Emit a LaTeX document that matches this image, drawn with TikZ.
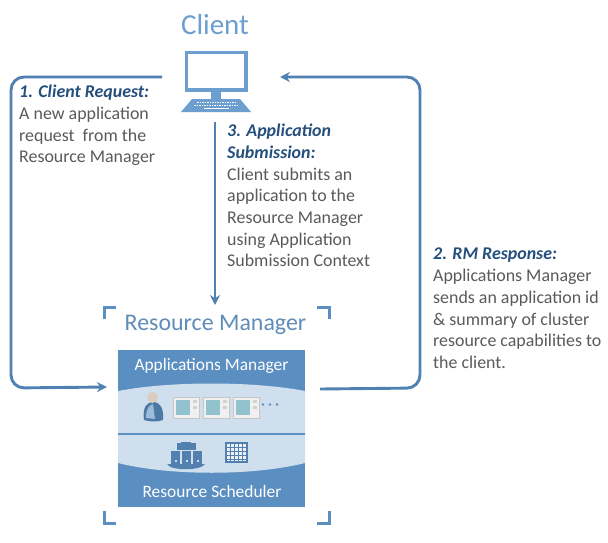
\documentclass[tikz,border=0pt]{standalone}
\usepackage{fontspec}
\setmainfont{Carlito}
\usetikzlibrary{arrows.meta,calc}
\definecolor{flow}{HTML}{4F81B3}
\definecolor{pale}{HTML}{6C9ECF}
\definecolor{band}{HTML}{5B8FC2}
\definecolor{lightband}{HTML}{CFDFEE}
\definecolor{headc}{HTML}{254F7C}
\definecolor{bodyc}{HTML}{5A5A5A}
\definecolor{titlec}{HTML}{5F8DB8}
\tikzset{
  flowline/.style={draw=flow,line width=2.9pt,rounded corners=13pt,-{Stealth[length=10pt,width=10pt]}},
  bracket/.style={draw=band,line width=3pt},
  note/.style={anchor=north west,align=left,inner sep=0pt,text=bodyc,font=\fontsize{17.9}{21.7}\selectfont},
  anchorbox/.style={minimum width=#1,inner sep=0pt,outer sep=0pt},
  inband/.style={text=white,font=\fontsize{17.4}{19}\selectfont},
  winbox/.style={draw=gray!45,fill=gray!12,line width=.8pt},
}
\newcommand{\hdr}[1]{{\color{headc}\bfseries\itshape #1}}
\begin{document}
\begin{tikzpicture}[x=1pt,y=-1pt,line cap=butt]
\useasboundingbox (0,0) rectangle (608,543);
\fill[white] (0,0) rectangle (608,543);
% anchor nodes
\node[anchorbox=118pt,minimum height=90pt] (client) at (221,77) {};
\node[anchorbox=216pt,minimum height=166pt] (rm) at (215,388) {};
% titles
\node[text=pale,font=\fontsize{29}{32}\selectfont] (clienttitle) at (215,25) {Client};
\node[text=titlec,font=\fontsize{23.9}{26}\selectfont] (rmtitle) at (215.5,325) {Resource Manager};
% monitor
\draw[pale,line width=3.2pt] (186.5,52.5) rectangle (246,90);
\fill[pale] (211,91) rectangle (221,99);
\fill[pale] (192,99) -- (240,99) -- (251,112) -- (181,112) -- cycle;
\foreach \r/\a/\b in {102/197/235,105/194/238}
  \draw[white,line width=1pt,dash pattern=on 1.5pt off 1pt] (\a,\r) -- (\b,\r);
\draw[white,line width=1pt] (204,108.5) -- (229,108.5);
% manager box
\fill[band] (118,350) rectangle (305,507);
\fill[lightband] (118,391) .. controls (170,381) and (253,381) .. (305,391)
  -- (305,463) .. controls (253,476) and (170,476) .. (118,463) -- cycle;
\draw[band,line width=1.2pt] (118,434) -- (305,434);
\node[inband] (am) at (211.5,366) {Applications Manager};
\node[inband] (rs) at (212,492) {Resource Scheduler};
% person
\fill[band!85!black] (144,420) .. controls (142,406) and (148,402) .. (153,402) .. controls (160,402) and (164,408) .. (163,420) .. controls (158,422) and (150,422) .. (144,420) -- cycle;
\fill[band!60] (146,418) .. controls (146,408) and (150,405) .. (153,404) -- (155,419) -- cycle;
\fill[orange!30!gray!40] (152.5,397.5) circle (5.5pt);
% windows
\foreach \x in {173,203,233}{
  \draw[winbox] (\x,397) rectangle (\x+26,418);
  \fill[teal!30!lightband] (\x+3,400) rectangle (\x+17,415);
  \fill[gray!35] (\x+20,400) rectangle (\x+24,403);
  \fill[gray!35] (\x+20,406) rectangle (\x+24,409);
}
\foreach \x in {263,270,277}
  \fill[band] (\x,404.5) circle (1.3pt);
% servers
\fill[band!90!black] (167,464) .. controls (170,471) and (201,471) .. (205,464) -- cycle;
\fill[band!90!black] (171,451) rectangle (180,465);
\fill[band!90!black] (182,451) rectangle (191,465);
\fill[band!90!black] (193,451) rectangle (202,465);
\fill[band!90!black] (177,443) rectangle (196,450);
\fill[band!90!black] (181,442) rectangle (191,446);
\foreach \x in {175.5,186.5,197.5}
  \fill[white!70!band] (\x-1,460) rectangle (\x+1,462);
% calendar
\draw[band!90!black,line width=1.2pt,fill=white!60!lightband] (226,443) rectangle (247,462);
\foreach \x in {230,234,238,242}
  \draw[band!90!black,line width=.7pt] (\x,443) -- (\x,462);
\foreach \y in {447,451,455,459}
  \draw[band!90!black,line width=.7pt] (226,\y) -- (247,\y);
% brackets
\draw[bracket] (116,307) -- (104,307) -- (104,319);
\draw[bracket] (317,307) -- (329,307) -- (329,319);
\draw[bracket] (104,511) -- (104,523) -- (116,523);
\draw[bracket] (329,511) -- (329,523) -- (317,523);
% connectors
\coordinate (turnL) at (11,77);
\coordinate (turnR) at (420,77);
\draw[flowline] (client.west) -- (turnL) -- (turnL |- rm.west) -- ($(rm.west)+(0,-1)$);
\draw[flowline] ($(rm.east)+(-3,1)$) -- (turnR |- rm.east) -- (turnR) -- (client.east);
\draw[flowline] (client.south -| rm.north) -- (rm.north);
% notes
\node[note] (n1) at (19,85) {\hdr{1. Client Request:}\\A new application\\request\ \ from the\\Resource Manager};
\node[note] (n3) at (227,124) {\hdr{3. Application}\\\hdr{Submission:}\\Client submits an\\application to the\\Resource Manager\\using Application\\Submission Context};
\node[note] (n2) at (433,248) {\hdr{2. RM Response:}\\Applications Manager\\sends an application id\\\& summary of cluster\\resource capabilities to\\the client.};
\end{tikzpicture}
\end{document}
